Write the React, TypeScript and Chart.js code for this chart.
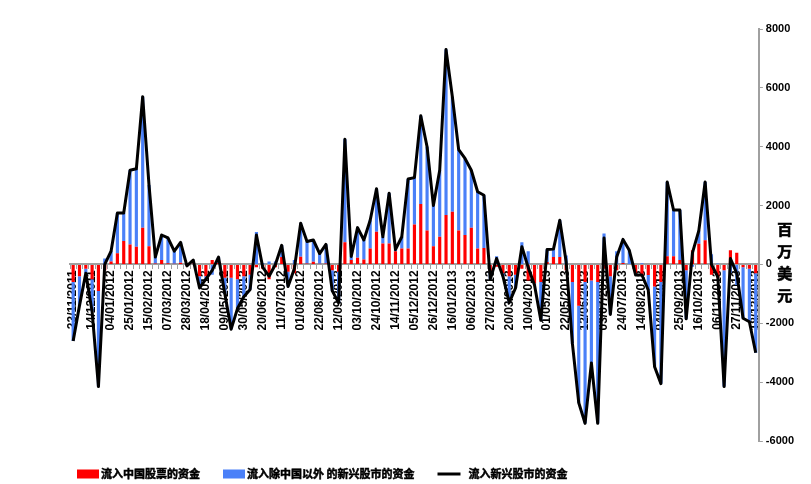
import { useEffect, useRef } from 'react';
import { Chart, registerables } from 'chart.js';

Chart.register(...registerables);

// Weekly fund-flow dates (Wednesdays), Nov 2011 – Dec 2013
const weekLabels = [
  '23/11/2011', '30/11/2011', '07/12/2011', '14/12/2011', '21/12/2011', '28/12/2011',
  '04/01/2012', '11/01/2012', '18/01/2012', '25/01/2012', '01/02/2012', '08/02/2012',
  '15/02/2012', '22/02/2012', '29/02/2012', '07/03/2012', '14/03/2012', '21/03/2012',
  '28/03/2012', '04/04/2012', '11/04/2012', '18/04/2012', '25/04/2012', '02/05/2012',
  '09/05/2012', '16/05/2012', '23/05/2012', '30/05/2012', '06/06/2012', '13/06/2012',
  '20/06/2012', '27/06/2012', '04/07/2012', '11/07/2012', '18/07/2012', '25/07/2012',
  '01/08/2012', '08/08/2012', '15/08/2012', '22/08/2012', '29/08/2012', '05/09/2012',
  '12/09/2012', '19/09/2012', '26/09/2012', '03/10/2012', '10/10/2012', '17/10/2012',
  '24/10/2012', '31/10/2012', '07/11/2012', '14/11/2012', '21/11/2012', '28/11/2012',
  '05/12/2012', '12/12/2012', '19/12/2012', '26/12/2012', '02/01/2013', '09/01/2013',
  '16/01/2013', '23/01/2013', '30/01/2013', '06/02/2013', '13/02/2013', '20/02/2013',
  '27/02/2013', '06/03/2013', '13/03/2013', '20/03/2013', '27/03/2013', '03/04/2013',
  '10/04/2013', '17/04/2013', '24/04/2013', '01/05/2013', '08/05/2013', '15/05/2013',
  '22/05/2013', '29/05/2013', '05/06/2013', '12/06/2013', '19/06/2013', '26/06/2013',
  '03/07/2013', '10/07/2013', '17/07/2013', '24/07/2013', '31/07/2013', '07/08/2013',
  '14/08/2013', '21/08/2013', '28/08/2013', '04/09/2013', '11/09/2013', '18/09/2013',
  '25/09/2013', '02/10/2013', '09/10/2013', '16/10/2013', '23/10/2013', '30/10/2013',
  '06/11/2013', '13/11/2013', '20/11/2013', '27/11/2013', '04/12/2013', '11/12/2013',
  '18/12/2013',
];

// Flows into Chinese equities (USD mn)
const chinaFlows = [
  -600, -400, -150, -500, -900, -200,
  100, 380, 800, 680, 600, 1250,
  620, 30, 150, 40, 20, 60,
  -30, 30, -400, -400, 150, 50,
  -450, -450, -500, -400, -350, -100,
  -150, -500, -100, 250, -250, -300,
  260, 30, 90, 20, 30, -200,
  -250, 750, 150, 230, 170, 540,
  1110, 710, 710, 450, 540, 540,
  1360, 2050, 1150, 620, 940, 1680,
  1790, 1150, 1000, 1250, 540, 560,
  -250, -80, -300, -400, -350, -150,
  -550, -650, -600, 80, 250, 250,
  -200, -600, -1400, -600, -550, -600,
  -150, -400, -200, 50, 0, -300,
  -400, -360, -750, -600, 280, 280,
  150, -200, 480, 700, 820, -350,
  -450, -200, 480, 400, -100, -150,
  -300,
];

// Flows into emerging-market equities excluding China (USD mn)
const otherEmFlows = [
  -2000, -1000, -150, -1100, -3250, 200,
  350, 1370, 950, 2520, 2650, 4450,
  2080, 220, 850, 860, 430, 690,
  -20, 120, -400, -100, -350, 200,
  -550, -1750, -1000, -700, -500, 1100,
  50, 100, 100, 400, -500, 150,
  1140, 750, 740, 350, 650, -700,
  -1050, 3500, 120, 1020, 660, 960,
  1460, 230, 1710, 50, 400, 2360,
  1590, 3000, 2850, 1380, 2260, 5620,
  3910, 2750, 2600, 1950, 1930, 1790,
  -250, 280, -100, -900, -450, 750,
  450, -50, -1300, 430, 270, 1250,
  300, -2100, -3300, -4800, -2800, -4800,
  1050, -1300, 450, 800, 480, -60,
  40, -510, -2730, -3450, 2520, 1570,
  1700, -1650, -80, 450, 1980, 350,
  30, -3950, -280, -700, -1730, -1800,
  -2700,
];

// Total flows into emerging-market equities (USD mn)
const totalEmFlows = [
  -2600, -1400, -300, -1600, -4150, 0,
  450, 1750, 1750, 3200, 3250, 5700,
  2700, 250, 1000, 900, 450, 750,
  -50, 150, -800, -500, -200, 250,
  -1000, -2200, -1500, -1100, -850, 1000,
  -100, -400, 0, 650, -750, -150,
  1400, 780, 830, 370, 680, -900,
  -1300, 4250, 270, 1250, 830, 1500,
  2570, 940, 2420, 500, 940, 2900,
  2950, 5050, 4000, 2000, 3200, 7300,
  5700, 3900, 3600, 3200, 2470, 2350,
  -500, 200, -400, -1300, -800, 600,
  -100, -700, -1900, 510, 520, 1500,
  100, -2700, -4700, -5400, -3350, -5400,
  900, -1700, 250, 850, 480, -360,
  -360, -870, -3480, -4050, 2800, 1850,
  1850, -1850, 400, 1150, 2800, 0,
  -420, -4150, 200, -300, -1830, -1950,
  -3000,
];

const seriesNames = ['流入中国股票的资金', '流入除中国以外 的新兴股市的资金', '流入新兴股市的资金'];
const axisTitle = '百万美元';

const RED = '#FF0000';
const BLUE = '#4A80F8';
const AXIS_GREY = '#A0A0A0';
const LATIN = "'Liberation Sans', Arial, sans-serif";
const CJK = "'Noto Sans CJK SC', 'Noto Sans', sans-serif";

// Heavy CJK text: fill plus a thin outline of the same colour
function heavyText(ctx: CanvasRenderingContext2D, text: string, x: number, y: number, weight: number) {
  ctx.fillText(text, x, y);
  ctx.lineWidth = weight;
  ctx.strokeStyle = ctx.fillStyle as string;
  ctx.strokeText(text, x, y);
}

// Draws the bottom legend row and the stacked vertical unit title beside the value axis.
const legendAndTitle = {
  id: 'legendAndTitle',
  afterDraw(chart: any) {
    const { ctx, chartArea } = chart;
    const yScale = chart.scales.y;
    ctx.save();

    // unit title, one character per row
    ctx.font = `bold 15px ${CJK}`;
    ctx.fillStyle = '#000000';
    ctx.textAlign = 'center';
    ctx.textBaseline = 'middle';
    const zeroY = yScale.getPixelForValue(0);
    Array.from(axisTitle).forEach((ch, k) => {
      heavyText(ctx, ch, chartArea.right + 26, zeroY - 35 + k * 22, 0.6);
    });

    // legend
    ctx.font = `bold 11px ${CJK}`;
    ctx.textAlign = 'left';
    const rowY = 474;
    let x = chartArea.left + 7;
    chart.data.datasets.forEach((ds: any) => {
      if (ds.type === 'line') {
        ctx.strokeStyle = ds.borderColor;
        ctx.lineWidth = 3;
        ctx.beginPath();
        ctx.moveTo(x, rowY);
        ctx.lineTo(x + 23, rowY);
        ctx.stroke();
        x += 31;
      } else {
        ctx.fillStyle = ds.backgroundColor;
        ctx.fillRect(x, rowY - 4.5, 22, 9);
        x += 24;
      }
      ctx.fillStyle = '#000000';
      heavyText(ctx, ds.label, x, rowY, 0.5);
      x += ctx.measureText(ds.label).width + 23;
    });

    ctx.restore();
  },
};

export default function App() {
  const canvasRef = useRef<HTMLCanvasElement>(null);

  useEffect(() => {
    if (!canvasRef.current) return;
    const chart = new Chart(canvasRef.current, {
      type: 'bar',
      data: {
        labels: weekLabels,
        datasets: [
          {
            type: 'bar',
            label: seriesNames[0],
            data: chinaFlows,
            backgroundColor: RED,
            stack: 'flows',
            order: 1,
            barPercentage: 0.5,
            categoryPercentage: 1,
          },
          {
            type: 'bar',
            label: seriesNames[1],
            data: otherEmFlows,
            backgroundColor: BLUE,
            stack: 'flows',
            order: 1,
            barPercentage: 0.5,
            categoryPercentage: 1,
          },
          {
            type: 'line',
            label: seriesNames[2],
            data: totalEmFlows,
            borderColor: '#000000',
            backgroundColor: '#000000',
            borderWidth: 3,
            borderJoinStyle: 'round',
            pointRadius: 0,
            tension: 0,
            fill: false,
            stack: 'total',
            order: 0,
          },
        ],
      } as any,
      options: {
        responsive: false,
        animation: false,
        events: [],
        layout: { padding: { left: 70, right: 14, top: 29, bottom: 43 } },
        plugins: {
          legend: { display: false },
          tooltip: { enabled: false },
        },
        scales: {
          x: {
            type: 'category',
            position: { y: 0 },
            stacked: true,
            offset: true,
            z: 1,
            grid: {
              drawOnChartArea: false,
              drawTicks: true,
              tickLength: 4,
              color: AXIS_GREY,
              offset: true,
            },
            border: { display: true, color: AXIS_GREY, width: 2 },
            ticks: {
              autoSkip: false,
              minRotation: 90,
              maxRotation: 90,
              padding: 2,
              color: '#000',
              font: { family: LATIN, size: 12, weight: 'bold' },
              callback: (_v: any, i: number) => (i % 3 === 0 ? weekLabels[i] : ''),
            },
          },
          y: {
            position: 'right',
            stacked: true,
            min: -6000,
            max: 8000,
            grid: {
              drawOnChartArea: false,
              drawTicks: true,
              tickLength: 4,
              color: AXIS_GREY,
            },
            border: { display: true, color: AXIS_GREY, width: 2 },
            ticks: {
              stepSize: 2000,
              padding: 3,
              color: '#000',
              font: { family: LATIN, size: 11, weight: 'bold' },
              callback: (v: any) => String(v),
            },
          },
        },
      } as any,
      plugins: [legendAndTitle],
    });
    return () => chart.destroy();
  }, []);

  return (
    <div
      style={{
        position: 'fixed',
        left: 0,
        top: 0,
        width: 811,
        height: 484,
        background: '#ffffff',
      }}
    >
      <canvas ref={canvasRef} width={811} height={484} style={{ display: 'block' }} />
    </div>
  );
}
